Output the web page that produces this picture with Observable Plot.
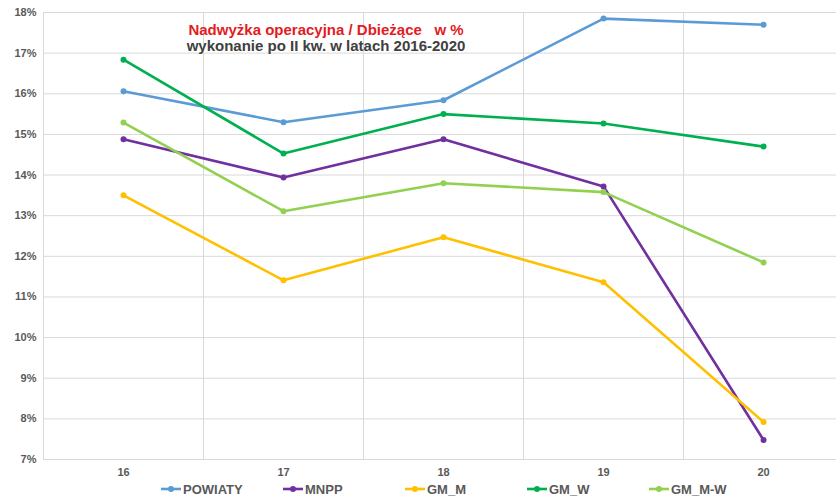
<!DOCTYPE html>
<html>
<head>
<meta charset="utf-8">
<script src="https://cdn.jsdelivr.net/npm/d3@7"></script>
<script src="https://cdn.jsdelivr.net/npm/@observablehq/plot@0.6"></script>
<style>
  html, body { margin: 0; padding: 0; background: #fff; }
  #wrap { position: relative; width: 836px; height: 496px; overflow: hidden; font-family: "Liberation Sans", Arial, sans-serif; }
  #title { position: absolute; left: 0; width: 652px; top: 21px; text-align: center; font-weight: bold; font-size: 15px; color: #e31b23; white-space: pre; line-height: 17px; }
  #subtitle { position: absolute; left: 0; width: 652px; top: 37px; text-align: center; font-weight: bold; font-size: 15px; color: #404040; white-space: pre; line-height: 17px; }
  #legend { position: absolute; left: 161px; top: 482px; height: 14px; display: flex; }
  .item { width: 122px; display: flex; align-items: center; font-family: "Liberation Sans Narrow", "Arial Narrow", "Liberation Sans", sans-serif; font-size: 13px; font-weight: bold; color: #595959; }
  .item svg { margin-right: 2px; }
</style>
</head>
<body>
<div id="wrap">
  <div id="chart"></div>
  <div id="title"></div>
  <div id="subtitle"></div>
  <div id="legend"></div>
</div>
<script>
const titleText = "Nadwyżka operacyjna / Dbieżące   w %";
const subtitleText = "wykonanie po II kw. w latach 2016-2020";

const years = [16, 17, 18, 19, 20];
const seriesNames = ["POWIATY", "MNPP", "GM_M", "GM_W", "GM_M-W"];
const seriesColors = ["#5b9bd5", "#7030a0", "#ffc000", "#00b050", "#92d050"];

const powiaty = [16.06, 15.30, 15.84, 17.85, 17.70];
const mnpp    = [14.88, 13.94, 14.88, 13.72, 7.48];
const gmM     = [13.50, 11.41, 12.47, 11.36, 7.92];
const gmW     = [16.84, 14.53, 15.50, 15.27, 14.70];
const gmMW    = [15.29, 13.11, 13.80, 13.58, 11.85];

const yTicks = [7, 8, 9, 10, 11, 12, 13, 14, 15, 16, 17, 18];
const xSeparators = [15.5, 16.5, 17.5, 18.5, 19.5];

const allSeries = [powiaty, mnpp, gmM, gmW, gmMW];
const data = [];
allSeries.forEach((vals, i) => {
  vals.forEach((v, j) => data.push({series: seriesNames[i], year: years[j], value: v}));
});

document.getElementById("title").textContent = titleText;
document.getElementById("subtitle").textContent = subtitleText;

const chart = Plot.plot({
  width: 836,
  height: 482,
  marginTop: 12,
  marginBottom: 23,
  marginLeft: 43,
  marginRight: 0,
  style: { fontFamily: "'Liberation Sans', Arial, sans-serif", fontSize: "11px", fontWeight: "bold", color: "#595959", background: "#fff" },
  x: { domain: [15.5, 20.456], ticks: years, tickFormat: d => String(d), tickSize: 0, tickPadding: 9, label: null },
  y: { domain: [7, 18], ticks: yTicks, tickFormat: d => d + "%", tickSize: 0, tickPadding: 7, label: null },
  color: { domain: seriesNames, range: seriesColors },
  marks: [
    Plot.ruleY(yTicks, { stroke: "#d9d9d9", strokeWidth: 1 }),
    Plot.ruleX(xSeparators, { stroke: "#d9d9d9", strokeWidth: 1 }),
    Plot.line(data, { x: "year", y: "value", z: "series", stroke: "series", strokeWidth: 2.6, curve: "linear" }),
    Plot.dot(data, { x: "year", y: "value", fill: "series", r: 3, stroke: "none" })
  ]
});
document.getElementById("chart").appendChild(chart);

const legend = document.getElementById("legend");
seriesNames.forEach((name, i) => {
  const item = document.createElement("div");
  item.className = "item";
  item.innerHTML = `<svg width="20" height="10"><line x1="0" y1="5" x2="20" y2="5" stroke="${seriesColors[i]}" stroke-width="2.6"/><circle cx="10" cy="5" r="3" fill="${seriesColors[i]}"/></svg><span>${name}</span>`;
  legend.appendChild(item);
});
</script>
</body>
</html>
